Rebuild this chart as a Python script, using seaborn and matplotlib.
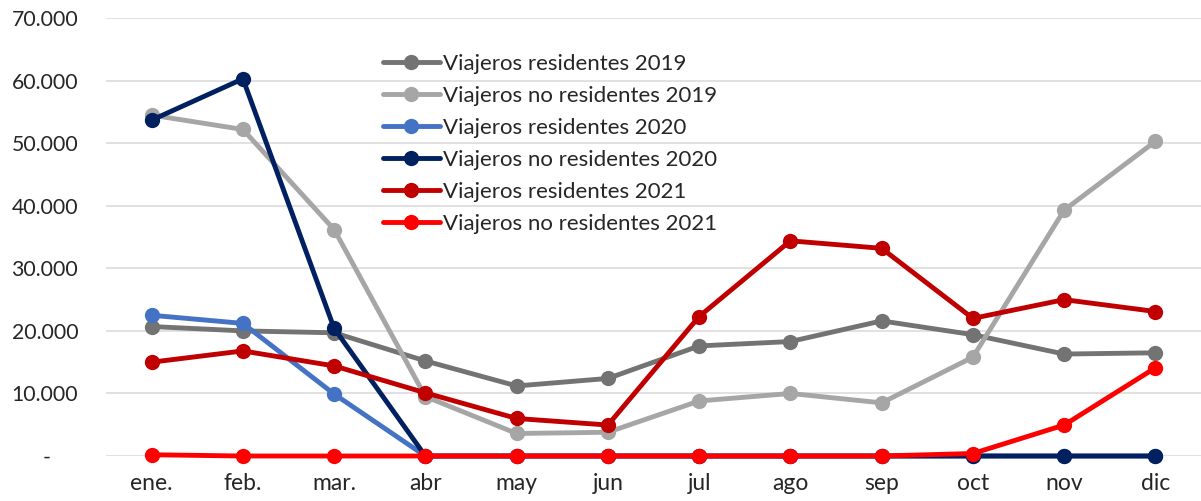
import matplotlib
matplotlib.use("Agg")
import matplotlib.pyplot as plt
import seaborn as sns
import pandas as pd
from matplotlib.ticker import FuncFormatter

# data
meses = ['ene.', 'feb.', 'mar.', 'abr', 'may', 'jun', 'jul', 'ago', 'sep', 'oct', 'nov', 'dic']

res_2019 = [20700, 20000, 19700, 15200, 11200, 12400, 17600, 18300, 21600, 19400, 16300, 16500]
nores_2019 = [54500, 52200, 36200, 9500, 3600, 3800, 8800, 10000, 8500, 15800, 39300, 50300]
res_2020 = [22500, 21200, 9900, 0, 0, 0, 0, 0, 0, 0, 0, 0]
nores_2020 = [53700, 60300, 20400, 0, 0, 0, 0, 0, 0, 0, 0, 0]
res_2021 = [15000, 16800, 14400, 10100, 6000, 4950, 22300, 34400, 33200, 22000, 25000, 23100]
nores_2021 = [200, 0, 0, 0, 0, 0, 0, 0, 0, 400, 4950, 14100]

series = {
    'Viajeros residentes 2019': res_2019,
    'Viajeros no residentes 2019': nores_2019,
    'Viajeros residentes 2020': res_2020,
    'Viajeros no residentes 2020': nores_2020,
    'Viajeros residentes 2021': res_2021,
    'Viajeros no residentes 2021': nores_2021,
}
colores = ['#737373', '#A6A6A6', '#4472C4', '#002060', '#C00000', '#FF0000']

sns.set_style("white")
plt.rcParams['font.family'] = ['Lato', 'DejaVu Sans']

df = pd.DataFrame([
    {'mes': m, 'valor': v, 'serie': nombre}
    for nombre, vals in series.items()
    for m, v in zip(meses, vals)
])

fig = plt.figure(figsize=(12.01, 5.01), dpi=100)
ax = fig.add_axes([0.0883, 0.0898, 0.9117, 0.874])

sns.lineplot(data=df, x='mes', y='valor', hue='serie', palette=colores,
             hue_order=list(series.keys()), marker='o', markersize=11,
             markeredgewidth=0, linewidth=3.5, sort=False, ax=ax)

# lines sitting on zero should not be cut in half
for ln in ax.lines:
    ln.set_clip_on(False)

ax.set_xlim(-0.5, len(meses) - 0.5)
ax.set_ylim(0, 70000)
ax.set_yticks(range(0, 70001, 10000))


def miles(v, pos):
    if v == 0:
        return '-     '
    return f'{int(v):,}'.replace(',', '.')


ax.yaxis.set_major_formatter(FuncFormatter(miles))
ax.grid(axis='y', color='#D9D9D9', linewidth=1.1)
ax.set_axisbelow(True)
sns.despine(ax=ax, left=True, bottom=True)
ax.tick_params(axis='y', length=0, pad=20, labelsize=15.3)
ax.tick_params(axis='x', length=0, pad=12, labelsize=16.5)
ax.set_xlabel('')
ax.set_ylabel('')

ax.legend(loc='upper left', bbox_to_anchor=(0.253, 0.918), frameon=False,
          fontsize=16, handlelength=2.55, handletextpad=0.15,
          labelspacing=0.54, borderaxespad=0, borderpad=0)

plt.savefig('out.png', dpi=100)
